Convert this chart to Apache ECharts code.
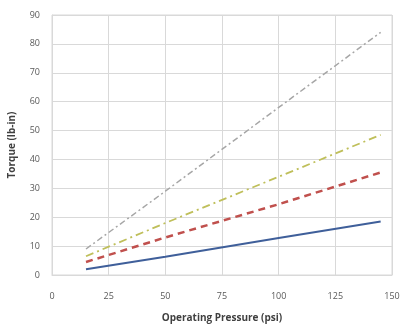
<!DOCTYPE html>
<html>
<head>
<meta charset="utf-8">
<script src="https://cdn.jsdelivr.net/npm/echarts@6/dist/echarts.min.js"></script>
<style>
  html, body { margin: 0; padding: 0; background: #fff; }
  #chart { width: 401px; height: 328px; }
</style>
</head>
<body>
<div id="chart"></div>
<script>
// operating pressure (psi) where values were read
const pressure = [15, 50, 100, 145]

// torque (lb-in) per line
const torqueBlue = [2, 6.3, 12.8, 18.5]
const torqueRed = [4.5, 13, 24.5, 35.5]
const torqueYellow = [6.5, 18, 34, 48.5]
const torqueGray = [9, 29, 58, 84]

const pairs = (ys) => pressure.map((x, i) => [x, ys[i]])

const chart = echarts.init(document.getElementById('chart'))

const lineSeries = (data, color, width, type) => ({
  type: 'line',
  data: pairs(data),
  symbol: 'none',
  lineStyle: { color: color, width: width, type: type },
  animation: false
})

chart.setOption({
  animation: false,
  grid: {
    left: 52, right: 9, top: 15, bottom: 53,
    outerBoundsMode: 'none',
    show: true, borderColor: '#d9d9d9', borderWidth: 1
  },
  xAxis: {
    type: 'value',
    min: 0,
    max: 150,
    interval: 25,
    name: 'Operating Pressure (psi)',
    nameLocation: 'middle',
    nameGap: 38,
    nameTextStyle: { fontFamily: 'Open Sans', fontSize: 10, fontWeight: 'bold', color: '#404040' },
    axisLine: { lineStyle: { color: '#d9d9d9' } },
    axisTick: { show: false },
    axisLabel: { fontFamily: 'Open Sans', fontSize: 9, color: '#595959', margin: 17 },
    splitLine: { lineStyle: { color: '#d9d9d9' } }
  },
  yAxis: {
    type: 'value',
    min: 0,
    max: 90,
    interval: 10,
    name: 'Torque (lb-in)',
    nameLocation: 'middle',
    nameGap: 35,
    nameTextStyle: { fontFamily: 'Open Sans', fontSize: 10, fontWeight: 'bold', color: '#404040' },
    axisLine: { show: true, lineStyle: { color: '#d9d9d9' } },
    axisTick: { show: false },
    axisLabel: { fontFamily: 'Open Sans', fontSize: 9, color: '#595959', margin: 12 },
    splitLine: { lineStyle: { color: '#d9d9d9' } }
  },
  series: [
    lineSeries(torqueBlue, '#3f5f9a', 2, 'solid'),
    lineSeries(torqueRed, '#c0504d', 2.5, [7, 5]),
    lineSeries(torqueYellow, '#bfbf5a', 1.8, [8, 4, 2, 4]),
    lineSeries(torqueGray, '#a6a6a6', 1.5, [6, 3, 2, 3])
  ]
})
</script>
</body>
</html>
